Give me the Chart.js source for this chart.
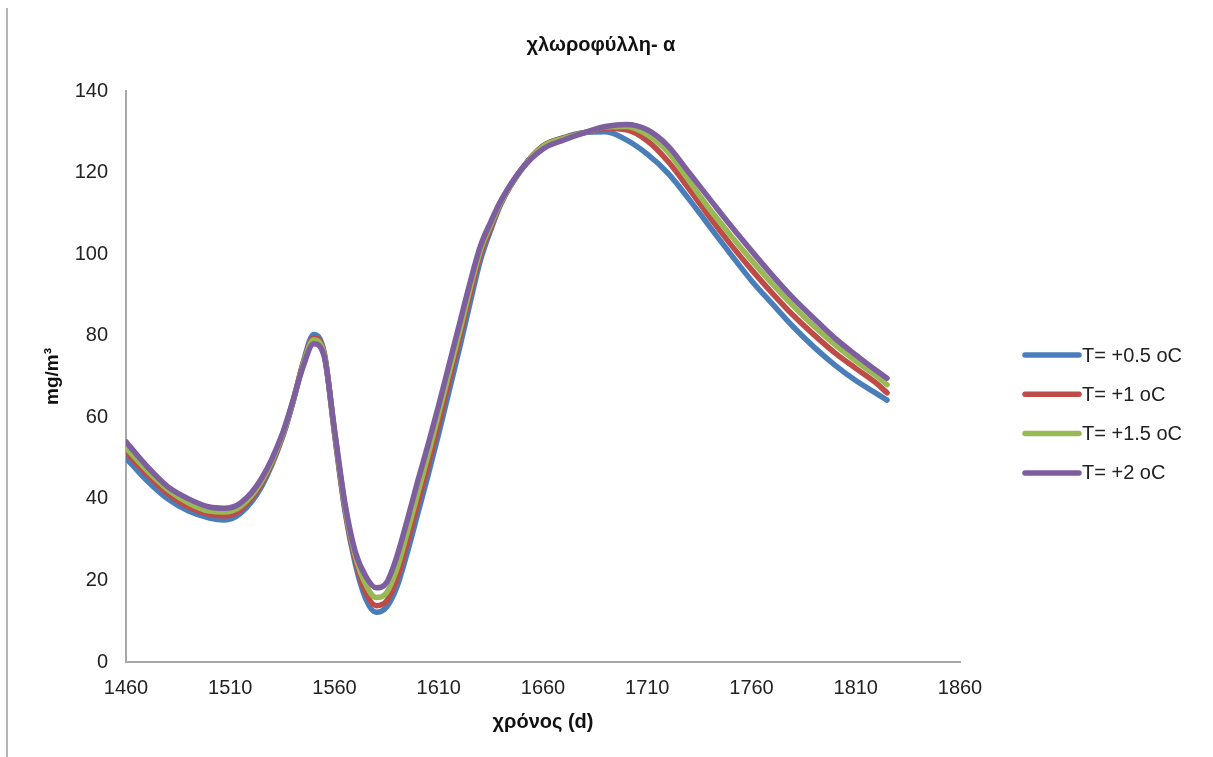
<!DOCTYPE html>
<html>
<head>
<meta charset="utf-8">
<script src="https://cdn.jsdelivr.net/npm/chart.js@4.4.1/dist/chart.umd.min.js"></script>
<style>
  html, body { margin: 0; padding: 0; background: #ffffff; }
  #wrap { position: relative; width: 1213px; height: 757px; }
  #frame { position: absolute; left: 6px; top: 8px; width: 2px; height: 749px; background: #b4b4b4; }
  canvas { position: absolute; left: 0; top: 0; }
</style>
</head>
<body>
<div id="wrap">
  <canvas id="c" width="1213" height="757"></canvas>
  <div id="frame"></div>
</div>
<script>
const chartTitle = "χλωροφύλλη- α";
const xTitle = "χρόνος (d)";
const yTitle = "mg/m³";
const seriesLabels = ["T= +0.5 oC", "T= +1 oC", "T= +1.5 oC", "T= +2 oC"];
const seriesColors = ["#4A7EBB", "#BE4B48", "#98B954", "#7D5FA0"];

const days = [1460,1470,1480,1490,1500,1507,1515,1525,1535,1540,1545,1550,1555,1560,1565,1570,1575,1580,1585,1590,1595,1600,1605,1610,1615,1620,1625,1630,1635,1640,1650,1660,1670,1680,1690,1700,1710,1720,1730,1740,1750,1760,1770,1780,1790,1800,1810,1820,1825];

const t05 = [50,44.5,40,37,35.3,34.8,36.5,43,55,63.5,73.5,80.3,76,56,37,24,15.5,12.2,13.5,18.5,27,36.5,46,56,66.5,77,88,98.5,106,112.5,121,126.5,128.6,129.8,130,128,124.5,119.8,113.5,106.7,100,93.5,87.8,82.2,77.2,72.8,69,65.8,64.2];
const t10 = [51.5,46,41.3,38,36.2,35.8,37.3,43.7,55.3,63.7,73.3,79.5,75.8,56.3,37.6,25,17,13.8,15,20.5,29.5,39,48.5,58.5,69,79.5,90,100,106.6,112.8,121,126.5,128.5,129.8,130.8,130.5,127.8,122.7,116,109,102.4,96.2,90.4,85,80.2,75.8,72,68.3,66];
const t15 = [52.5,47,42.3,39,37,36.8,38.2,44.3,55.6,63.8,73,79,75.5,56.6,38.3,26,19,15.8,17,23,32,41.5,51,61,71,81,91.5,101,107.3,113,121,126.4,128.4,129.8,131.2,131.3,129.3,125,118,111,104.6,98.5,92.7,87.3,82.3,77.8,73.8,70.1,68];
const t20 = [54,48,43,40,38,37.7,39,45,56,64,72.5,78,75,57,39,27,21,18.2,19.5,26,35,44.5,53.5,63,73,83,93,102,108,113.3,121,125.8,128,129.8,131.3,131.8,130.5,126.5,120,113.5,107,100.8,94.8,89.2,84.2,79.4,75.3,71.4,69.6];

const xMin = 1460, xMax = 1860, xStep = 50;
const yMin = 0, yMax = 140, yStep = 20;

const seriesValues = [t05, t10, t15, t20];

const datasets = seriesValues.map((vals, i) => ({
  label: seriesLabels[i],
  data: days.map((d, k) => ({ x: d, y: vals[k] })),
  borderColor: seriesColors[i],
  backgroundColor: seriesColors[i],
  borderWidth: 5.5,
  pointRadius: 0,
  pointHoverRadius: 0,
  fill: false,
  cubicInterpolationMode: 'monotone',
  borderCapStyle: 'round',
  borderJoinStyle: 'round',
  order: seriesValues.length - i
}));

const legendPlugin = {
  id: 'sideLegend',
  afterDraw(chart) {
    const ctx = chart.ctx;
    ctx.save();
    chart.data.datasets.forEach((ds, i) => {
      const y = 355 + 39.3 * i;
      ctx.strokeStyle = ds.borderColor;
      ctx.lineWidth = 5.5;
      ctx.lineCap = 'round';
      ctx.beginPath();
      ctx.moveTo(1025, y);
      ctx.lineTo(1079, y);
      ctx.stroke();
      ctx.fillStyle = '#222';
      ctx.font = '20px "Liberation Sans", Arial, sans-serif';
      ctx.textBaseline = 'middle';
      ctx.textAlign = 'left';
      ctx.fillText(ds.label, 1082, y + 1);
    });
    ctx.restore();
  }
};

const FONT = '"Liberation Sans", Arial, sans-serif';

new Chart(document.getElementById('c'), {
  type: 'line',
  data: { datasets },
  options: {
    responsive: false,
    animation: false,
    events: [],
    layout: { padding: { left: 0, right: 11, top: 0, bottom: 0 } },
    plugins: {
      legend: { display: false },
      tooltip: { enabled: false },
      title: {
        display: true,
        text: chartTitle,
        color: '#111',
        font: { family: FONT, size: 20, weight: 'bold' },
        padding: { top: 33, bottom: 34 }
      }
    },
    scales: {
      x: {
        type: 'linear',
        position: 'bottom',
        min: xMin, max: xMax,
        grid: { display: false, drawTicks: false },
        border: { display: true, color: '#a8a8a8', width: 2 },
        ticks: {
          stepSize: xStep,
          color: '#222',
          padding: 14,
          maxRotation: 0,
          autoSkip: false,
          font: { family: FONT, size: 20 },
          callback: v => String(v)
        },
        title: {
          display: true,
          text: xTitle,
          color: '#111',
          font: { family: FONT, size: 20, weight: 'bold' },
          padding: { top: 0, bottom: 23 }
        },
        afterFit(s) { s.height = 95; }
      },
      y: {
        type: 'linear',
        position: 'left',
        min: yMin, max: yMax,
        grid: { display: false, drawTicks: false },
        border: { display: true, color: '#a8a8a8', width: 2 },
        ticks: {
          stepSize: yStep,
          color: '#222',
          padding: 18,
          font: { family: FONT, size: 20 }
        },
        title: {
          display: true,
          text: yTitle,
          color: '#111',
          font: { family: FONT, size: 19, weight: 'bold' },
          padding: { top: 41, bottom: 0 }
        },
        afterFit(s) { s.width = 126; }
      },
      side: {
        type: 'linear',
        position: 'right',
        display: true,
        grid: { display: false, drawTicks: false },
        border: { display: false },
        ticks: { display: false },
        afterFit(s) { s.width = 242; }
      }
    }
  },
  plugins: [legendPlugin]
});
</script>
</body>
</html>
